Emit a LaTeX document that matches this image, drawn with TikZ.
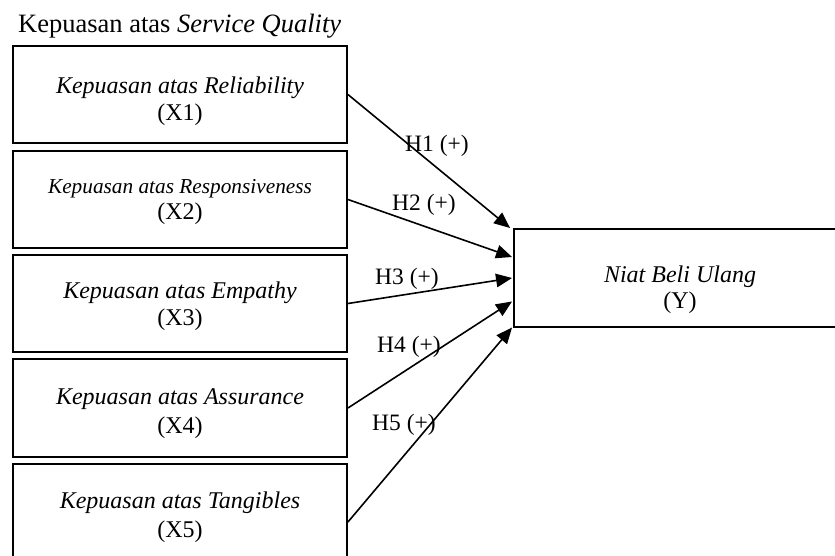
\documentclass[tikz,border=0pt]{standalone}
\usepackage{fontspec}
\setmainfont{Liberation Serif}
\usetikzlibrary{arrows.meta,calc}
\begin{document}
\begin{tikzpicture}[x=1pt,y=-1pt,
  box/.style={draw,line width=1.9pt,minimum width=334pt,minimum height=97pt,inner sep=0pt},
  txt/.style={anchor=base,inner sep=0pt,font=\fontsize{24}{27}\selectfont},
  lab/.style={anchor=base west,inner sep=0pt,font=\fontsize{23.5}{27}\selectfont},
  arr/.style={line width=1.6pt,-{Triangle[length=16pt,width=13.5pt]}}]
\clip (0,0) rectangle (835,555);
\fill[white] (0,0) rectangle (835,555);
\node[anchor=base west,inner sep=0pt,font=\fontsize{26.5}{30}\selectfont] (title) at (18,32) {Kepuasan atas \textit{Service Quality}};
\node[box] (b1) at (180,94.5) {};
\node[box] (b2) at (180,199.5) {};
\node[box] (b3) at (180,303.5) {};
\node[box,minimum height=98pt] (b4) at (180,408) {};
\node[box,minimum height=116pt] (b5) at (180,522) {};
\node[box,minimum height=98pt] (Y) at (681,278) {};
\node[txt] (t1a) at (180,93) {\textit{Kepuasan atas Reliability}};
\node[txt] (t1b) at (180,120) {(X1)};
\node[txt,font=\fontsize{21.3}{27}\selectfont] (t2a) at (180,193) {\textit{Kepuasan atas Responsiveness}};
\node[txt] (t2b) at (180,219) {(X2)};
\node[txt] (t3a) at (180,298) {\textit{Kepuasan atas Empathy}};
\node[txt] (t3b) at (180,325) {(X3)};
\node[txt] (t4a) at (180,404) {\textit{Kepuasan atas Assurance}};
\node[txt] (t4b) at (180,433) {(X4)};
\node[txt] (t5a) at (180,508) {\textit{Kepuasan atas Tangibles}};
\node[txt] (t5b) at (180,537) {(X5)};
\node[txt] (tya) at (680,282) {\textit{Niat Beli Ulang}};
\node[txt] (tyb) at (680,308) {(Y)};
\draw[arr] (b1.east) -- ($(Y.west)+(-3,-50)$);
\draw[arr] (b2.east) -- ($(Y.west)+(-1,-21)$);
\draw[arr] (b3.east) -- ($(Y.west)+(-1,0)$);
\draw[arr] (b4.east) -- ($(Y.west)+(-1,23.5)$);
\draw[arr] (b5.east) -- ($(Y.west)+(-1,49.5)$);
\node[lab] (h1) at (405,151) {H1 (+)};
\node[lab] (h2) at (392,210) {H2 (+)};
\node[lab] (h3) at (375,284) {H3 (+)};
\node[lab] (h4) at (377,352) {H4 (+)};
\node[lab] (h5) at (372,430) {H5 (+)};
\end{tikzpicture}
\end{document}
